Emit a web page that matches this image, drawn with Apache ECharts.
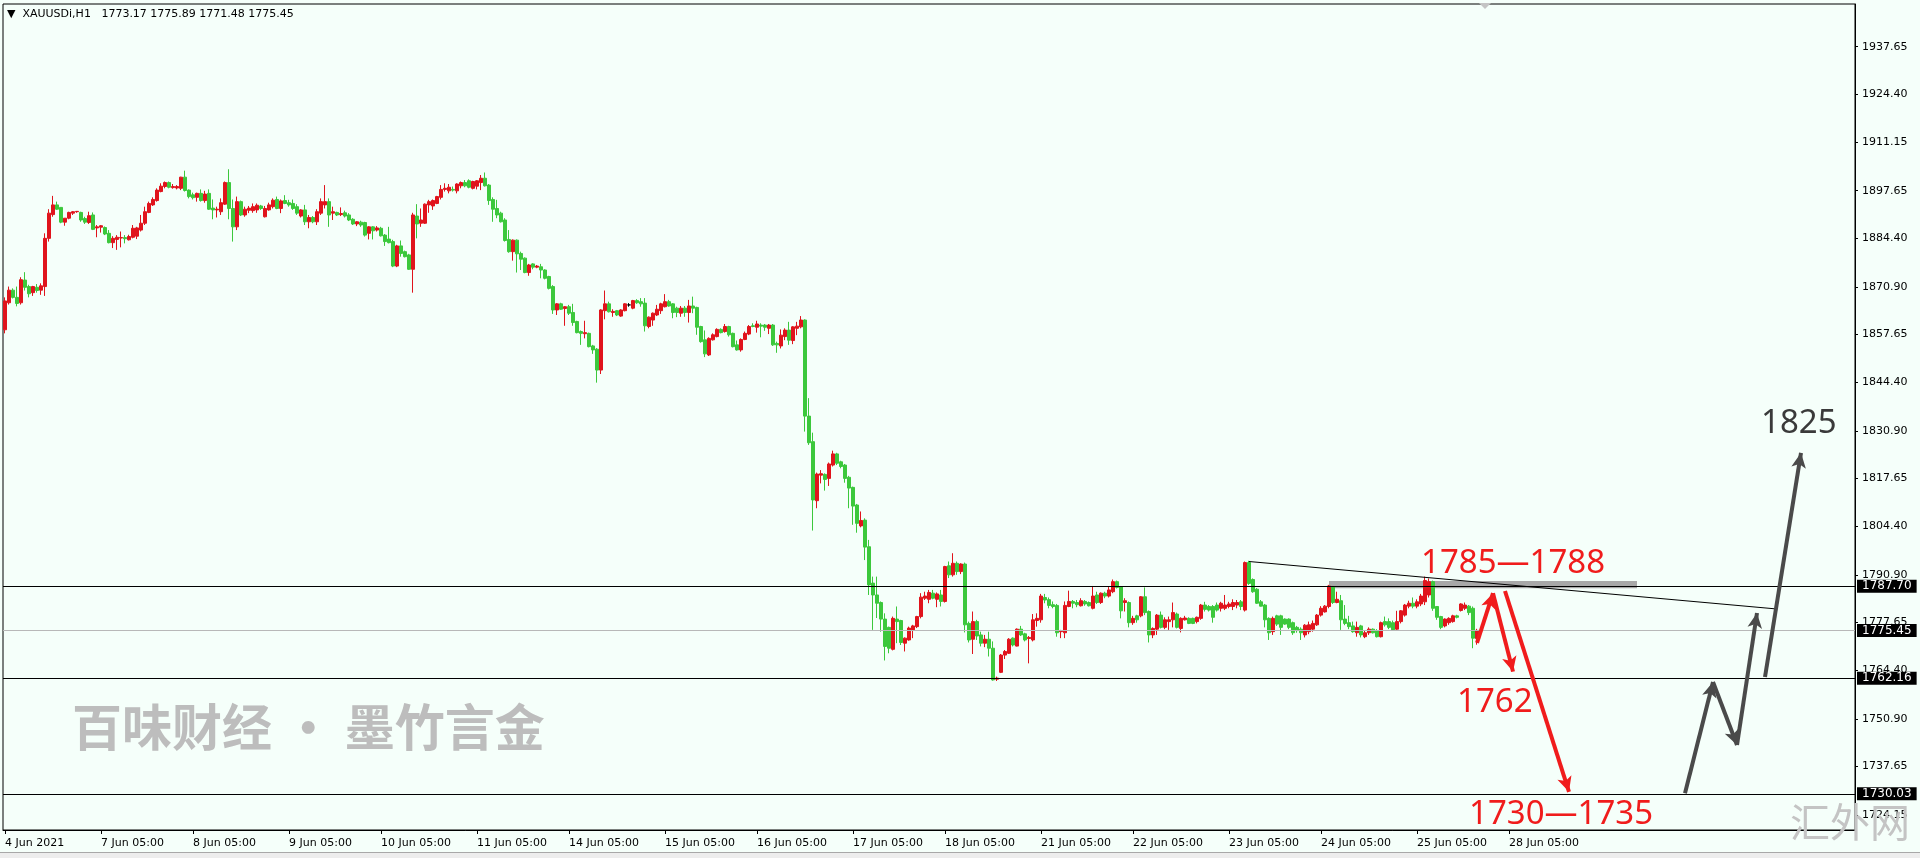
<!DOCTYPE html>
<html><head><meta charset="utf-8">
<script src="https://cdn.jsdelivr.net/npm/echarts@6/dist/echarts.min.js"></script>
<style>html,body{margin:0;padding:0;background:#f5fffa;} #c{width:1920px;height:858px;}</style>
</head><body><div id="c"></div>
<script>
// ---------- DATA ----------
const symbolName = 'XAUUSDi,H1';
// each row: [open, high, low, close]
const seg1 = [
[1859,1868,1858,1867],[1866.5,1871,1866,1870],[1870,1870.5,1867.7,1868],[1868,1871,1865.5,1866.3],[1866.5,1873.6,1866,1872.9],
[1872.8,1875,1869.9,1870.8],[1871,1871.5,1868,1869],[1869.3,1871.2,1868.4,1871],[1870.8,1871.7,1869.3,1869.9],[1870,1871.9,1868.7,1871.2],
[1871,1885.8,1868.4,1884.4],[1884.4,1892.5,1883.5,1891.4],[1891,1896.2,1890.4,1893.7],[1893.7,1894.6,1892.3,1892.5],[1893,1893,1888.6,1888.9],
[1888.9,1890,1887.9,1890],[1890,1891.8,1889.7,1891.6],[1891.4,1892,1890.9,1891.8],[1891.8,1892,1891.5,1891.9],[1891.6,1891.8,1889,1889.5],
[1889.9,1890.4,1888.4,1888.9],[1888.8,1891.8,1888.4,1890.7],[1890.9,1891.6,1886.7,1886.9],[1887.3,1888.1,1884.7,1887.6],[1887.5,1888.1,1886,1887.9],
[1887.4,1887.7,1885.3,1885.6],[1885.8,1886.7,1883,1883.2],[1883.2,1885,1881.7,1884.4],[1884.1,1885.3,1881.2,1884.7],[1884.5,1886.3,1881.9,1884.6],
[1884.6,1885.3,1883,1884.3],[1884,1885.4,1883.8,1884.9],[1884.7,1888.1,1884.4,1887.2],[1885,1887.6,1884.2,1887.3],[1886.7,1890.9,1886.3,1888.6],
[1888.6,1893.2,1888.1,1891.8],[1891.6,1894.6,1891.4,1894.1],[1893.7,1895.8,1893.4,1895.2],[1894.9,1898.3,1894.6,1897.8],[1897.4,1899.7,1897.2,1898.9],
[1898.8,1900.2,1898.3,1899.9],[1899.9,1900.2,1898.3,1898.6],[1898.5,1899.5,1898.2,1898.8],[1898.4,1899.2,1898,1898.8],[1898.3,1901.5,1897.8,1901.4],
[1901.4,1903.2,1897.4,1897.7],[1897.8,1898,1895.5,1896],[1896.5,1897.1,1895.2,1895.7],[1895.8,1897.1,1894.6,1896.9],[1896.9,1898,1894.6,1894.9],
[1894.9,1897.6,1894.3,1896.7],[1896.9,1898,1892.3,1892.5],[1892.8,1895.2,1889.7,1892.3],[1892.3,1893.2,1890.2,1892.5],[1891.8,1895.5,1890.9,1894.3],
[1893.9,1900.2,1893.7,1899.9],[1899.9,1903.6,1889.7,1892.7],[1892.7,1895.2,1883.5,1887.6],[1887.6,1896,1886.7,1894.6],[1894.6,1894.9,1890.6,1890.9],
[1890.9,1893.2,1890.4,1892.5],[1892.2,1893.4,1891.4,1892.8],[1892.1,1894.1,1891.5,1893.2],[1892.3,1894.1,1891.5,1893.6],[1893.4,1893.7,1892.3,1892.7],
[1890.4,1893.4,1890.2,1892.7],[1892.3,1894.3,1892.1,1893.7],[1893.2,1895.5,1892.7,1895],[1895.2,1896,1892.5,1892.7],[1892.7,1895.2,1891.4,1894.8],
[1894.9,1896.4,1893.9,1894.1],[1894.3,1895.1,1893.2,1893.7],[1894.1,1895.2,1892.3,1892.7],[1893.2,1893.9,1890.9,1891.4],[1890.6,1892.5,1890.2,1892.3],
[1892.3,1893.7,1888.1,1889],[1889,1890.9,1887.2,1890.2],[1890.2,1890.6,1888.6,1889],[1889,1892.5,1888.1,1891.8],[1891.4,1895.5,1890.9,1894.6],
[1893.7,1899.2,1892.7,1894.6],[1894.6,1895.5,1887.6,1890.9],[1891.4,1893.2,1889.5,1891.8],[1891.6,1891.8,1890.6,1890.9],[1891,1893,1890.6,1891.3],
[1891.5,1892.1,1890.2,1890.6],[1890.9,1891.4,1889.2,1889.5],[1889.7,1890,1888.1,1888.4],[1888.4,1889.2,1887.8,1889],[1888.9,1889.3,1887.6,1888.1],
[1888.8,1889,1884.9,1885.3]
];
const seg2 = [
[1885.8,1887.8,1884.1,1887.6],[1887.6,1887.8,1884.1,1886.5],[1886.7,1887.8,1886.3,1887.3],[1887.2,1887.6,1884.9,1885.1],[1885.3,1885.6,1882.3,1883.5],
[1884.2,1887.6,1883,1883.2],[1883.5,1884,1876.4,1876.7],[1876.7,1882.6,1876.4,1882.3],[1882.3,1883.8,1879.3,1880.2],[1880.7,1881,1879.1,1879.3],
[1879.8,1880.1,1875.6,1875.8],[1875.8,1891.5,1869.3,1890.9],[1890.6,1893.9,1884.4,1888.4],[1888.6,1892.7,1887.6,1889.5],[1888.6,1894.1,1888.4,1893.9],
[1893.7,1895.1,1891.5,1894.6],[1893.4,1895.2,1892.3,1894.9],[1894.1,1896.2,1893.9,1896],[1895.8,1899.2,1895.2,1898],[1898,1899.7,1897.4,1898.3],
[1897.6,1899.5,1896.9,1898.6],[1898,1898.8,1897.4,1897.8],[1897.6,1899.7,1896.9,1899.5],[1899,1900.2,1898.3,1899.9],[1899.9,1900.6,1898.6,1899],
[1900.4,1900.8,1898.3,1898.6],[1898.3,1900.4,1898,1900.2],[1898.9,1900.6,1898,1900.4],[1899.9,1902,1897.8,1901.1],[1901.1,1902.7,1898.8,1899],
[1899.2,1899.5,1893.7,1894.9],[1895.2,1895.8,1889,1892.5],[1892.7,1895.1,1890,1890.9],[1891.4,1891.8,1888.8,1889],[1889.5,1890,1883.5,1883.8],
[1884.1,1886.7,1880.4,1880.7],[1880.7,1884.1,1878.2,1883.9],[1883.9,1884.1,1874.9,1880.1],[1880.2,1880.7,1875.6,1878.6],[1878.9,1879.1,1874.7,1874.9],
[1874.9,1877.3,1874,1877],[1877.3,1877.5,1875.8,1876.4],[1876.4,1877,1876.1,1876.7],[1876.5,1877.3,1873.3,1875.6],[1875.6,1875.8,1873,1873.3],
[1873.8,1874,1870.2,1870.5],[1871,1871.4,1863.4,1864.5],[1864.5,1866.4,1863.1,1866.2],[1866.2,1866.5,1864.5,1864.7],[1864.9,1865.6,1860.1,1865.4],
[1865.4,1865.9,1863.1,1863.6],[1863.8,1866.2,1860.1,1861],[1861.3,1861.5,1858,1858.2],[1858.5,1858.8,1854.8,1858],[1857.9,1861.5,1856.6,1858.2],
[1858,1858.2,1854.1,1854.3],[1854.5,1854.8,1852.3,1853.4],[1853.6,1853.9,1844.3,1847.8],[1847.8,1864.7,1846.7,1864.5],[1864.3,1869.9,1861.9,1866.2],
[1866.2,1866.8,1863.8,1864],[1863.8,1864.7,1862.6,1864.1],[1864.3,1864.5,1862.8,1863.1],[1862.8,1864.7,1862.6,1864.5],[1864.3,1866.4,1864.1,1866.2],
[1865.9,1866.4,1865.4,1865.9],[1865,1867.3,1864.7,1867.1],[1867.1,1867.5,1866.2,1866.5],[1866.8,1867.8,1865.4,1866.2],[1866.4,1867.8,1858.5,1860.1],
[1859.9,1862.7,1859.4,1862.5],[1861.7,1863.8,1860.1,1863.6],[1863.1,1865.9,1862.8,1864.7],[1864.3,1866.5,1863.4,1866.2],[1865.4,1868.9,1865.2,1866.8],
[1866.8,1867.3,1865.4,1865.6],[1866.2,1866.4,1862.2,1863.8],[1865,1865.4,1862.5,1863.8],[1863.6,1865.6,1862.6,1865],[1865,1865.6,1862.6,1863.8],
[1863.8,1867.3,1861,1865.6],[1865.6,1868.2,1863.6,1865],[1865.2,1865.4,1857.6,1859.7],[1859.9,1860.1,1855.4,1855.7],[1856.2,1858.8,1851.4,1852.3],
[1852,1856.9,1851.7,1856.6],[1856.2,1858,1856,1857.6],[1857.1,1859.4,1856.9,1859.1],[1859.1,1859.4,1858,1858.2],[1858.5,1860.6,1858.2,1859.9],
[1859.9,1860.1,1857.1,1857.6],[1858,1858.2,1854.1,1854.3],[1854.8,1856,1853.2,1853.4]
];
const seg3 = [
[1853.4,1856.6,1852.9,1856.3],[1856.3,1858.5,1856.1,1858],[1857.8,1860.3,1857.5,1859.9],[1860.1,1860.8,1859.7,1859.9],[1859.7,1861.5,1858.2,1860.6],
[1860.3,1860.8,1856.9,1860],[1860.3,1860.6,1858.7,1859.7],[1859.4,1860.6,1857.8,1860.3],[1860.3,1860.6,1854.5,1854.8],[1855.2,1855.7,1852.6,1854.8],
[1854.5,1859.1,1853.8,1857.5],[1857.1,1859.4,1856.1,1858.9],[1858.9,1861.2,1854.8,1856.1],[1856,1860,1855,1859.8],[1859.4,1861.2,1857.5,1860],
[1859.8,1862.8,1859.4,1861.7],[1861.7,1861.9,1830.7,1835],[1835,1840,1827,1827.6],[1827.9,1830.4,1803.2,1811.7],[1811.5,1819.3,1809.4,1818.9],
[1818.6,1820,1816.3,1819],[1818.8,1819.1,1814.3,1817.4],[1817.7,1822.1,1815.6,1821.7],[1821.4,1825.4,1821,1824.5],[1824.5,1824.8,1821.4,1821.9],
[1822.3,1822.6,1820.5,1821],[1821.4,1821.7,1816.5,1817.7],[1818,1818.4,1809.4,1815],[1815.2,1815.4,1804.8,1810],[1810.3,1810.6,1802.6,1805.2],
[1804.5,1808.5,1804.1,1806],[1806.1,1806.6,1795,1798.6],[1798.7,1800.6,1785.3,1788.1],[1788.6,1790.4,1775.6,1785.3],[1785.3,1790.4,1778.9,1783],
[1783.2,1783.5,1775.1,1778.6],[1778.6,1780.2,1767.1,1771],[1776.3,1776.5,1769.1,1770.5],[1770.2,1779.3,1769.9,1778.8],[1778.6,1782.1,1771.9,1777.9],
[1778.2,1778.4,1771.4,1772.1],[1771.9,1773.5,1769.6,1773.3],[1772.8,1776.5,1772.6,1776.1],[1775.6,1777,1773.3,1776.7],[1776.5,1779.5,1776.1,1779.3],
[1779.3,1785.8,1778.8,1784.7],[1784.4,1786.2,1783.9,1785],[1784.1,1786.7,1783,1786],[1785.8,1786.7,1784.1,1784.4],[1784.1,1786,1781.9,1785.6],
[1785.3,1786.7,1782.1,1783.5],[1783.5,1793.4,1783.2,1793.2],[1793.4,1794.6,1790,1790.9],[1790.9,1796.9,1790.4,1794.1],[1794.1,1794.6,1790.9,1791.8],
[1791.8,1794.1,1791.1,1793.9],[1793.9,1794.3,1774.9,1777],[1777.4,1777.9,1772.1,1772.8],[1773,1780.7,1768.9,1777.9],[1777.9,1778.4,1772.8,1773.9],
[1774.2,1775.1,1771,1771.9],[1771.9,1774.2,1770.8,1773],[1773,1775.1,1768.2,1770.5],[1770.5,1772.4,1761.5,1761.7],[1761.9,1762.6,1761.4,1762.2],
[1763.8,1768.9,1763.6,1768.6],[1768.6,1770,1767.5,1769.6],[1769.1,1773.3,1768.9,1773],[1773.3,1773.5,1771,1771.4],[1771.1,1776,1771,1775.8],
[1775.8,1776.7,1773.9,1774.2],[1774.5,1774.8,1772.4,1772.8],[1773.2,1773.9,1766.3,1773.5],[1772.8,1780,1772.4,1778.4],[1778.2,1780.2,1776.5,1778.8],
[1778.4,1785.6,1777.6,1785],[1784.6,1785.6,1783,1783.9],[1784,1784.6,1781.6,1782.4],[1782.6,1783.5,1781.6,1782.1],[1782.4,1782.8,1773.7,1774.8],
[1775.1,1775.6,1773.3,1775.4],[1774.8,1783.5,1773.3,1782.4],[1782.1,1786.5,1781.9,1783.5],[1783.5,1783.9,1781.6,1783],[1783.2,1783.9,1781.9,1782.6],
[1782.3,1784.4,1782.1,1783.7],[1783.5,1783.9,1782.3,1782.8],[1783.2,1783.5,1782.1,1782.3],[1781.6,1787.8,1781.3,1785],[1785.3,1786.2,1782.8,1783.2],
[1783.2,1786,1782.8,1785.8],[1785.8,1786.2,1784.4,1785],[1785,1787.5,1784.6,1786.7]
];
const seg4 = [
[1786.2,1789.6,1785.8,1789],[1789,1789.3,1787.1,1787.4],[1787.6,1787.8,1778.8,1780.9],[1783.2,1784.4,1780.7,1783.7],[1783.2,1783.5,1776.3,1777.6],
[1777.6,1779.5,1777,1778.8],[1779.5,1779.8,1777.6,1778.4],[1779.5,1785,1779.1,1784.8],[1784.8,1787.4,1779.7,1780.4],[1780.7,1781,1772.1,1774.2],
[1774.2,1776.3,1773.3,1776],[1775.8,1780,1774.2,1779.7],[1779.7,1780.7,1776,1776.3],[1776.3,1779.1,1775.8,1778.4],[1777.9,1779.3,1775.6,1778.4],
[1778.4,1783.2,1776.3,1780.4],[1780,1780.4,1776,1776.3],[1776,1779.1,1774.9,1778.8],[1778.4,1779.5,1778.2,1778.9],[1778.8,1779.1,1777.2,1777.4],
[1778.8,1779,1777.2,1777.4],[1777.9,1779.3,1777.4,1779.1],[1778.8,1782.8,1778.4,1782.5],[1782.5,1783.4,1780.7,1781.3],[1782.1,1782.5,1780.7,1781.1],
[1782.1,1782.5,1777.6,1779.1],[1782.5,1783.2,1780.7,1781.1],[1781.6,1783.4,1780.7,1783],[1781.6,1785.3,1781.1,1782.5],[1782.1,1783.4,1781.6,1782.8],
[1782.1,1784.1,1781.1,1783.2],[1782.5,1783.9,1781.6,1783.2],[1783.4,1783.9,1781.1,1782.1],[1781.1,1794.6,1780.7,1794.3],[1794.3,1794.8,1788.1,1788.5],
[1789.6,1789.9,1785.9,1786.2],[1786.9,1787.2,1782.8,1783],[1783.4,1783.9,1782.1,1782.2],[1782.5,1782.8,1776.3,1778.4],[1778.8,1779.1,1772.8,1774.8],
[1775.1,1779.3,1774.2,1778.8],[1779.5,1779.8,1776.7,1777.2],[1779.5,1779.8,1774.2,1776.3],[1778.6,1778.8,1777,1777.2],[1778.6,1778.8,1775.8,1776.3],
[1777.6,1777.9,1774.2,1774.8],[1776.3,1776.7,1774.8,1775.4],[1775.8,1776.3,1772.8,1774.8],[1774.2,1777.2,1773.5,1776.9],[1775.1,1777.9,1774.4,1777],
[1775.8,1778.2,1775.1,1777.4],[1777,1780,1776.7,1779.7],[1779.7,1782.2,1779.3,1781.6],[1780.6,1782.5,1780.4,1782.2],[1782.1,1788.1,1781.6,1787.8],
[1787.6,1787.8,1782.8,1783.2],[1783.2,1786.2,1783,1784.1],[1783.7,1785.3,1775.6,1778.4],[1778.6,1782.5,1776.9,1777.4],[1777.6,1779.5,1775.8,1776.5],
[1776.7,1777.9,1774.8,1775.1],[1774.8,1777.9,1773.7,1776.3],[1776.7,1777,1773.5,1774.2],[1773.7,1775.4,1773.3,1774.8],[1774.8,1776.3,1774.2,1775.8],
[1775.8,1776,1774.6,1774.8],[1775.4,1775.8,1773.5,1773.7],[1773.7,1777.9,1773.5,1777.6],[1777.9,1779.3,1776.5,1777],[1777.9,1778.8,1775.8,1776.3],
[1777.6,1778.2,1775.4,1775.6],[1775.8,1780.9,1775.6,1777.9],[1777.9,1781.1,1777.4,1780.9],[1779.7,1782.8,1779.3,1782.5],[1782.2,1783.7,1781.6,1783],
[1783,1784.6,1781.6,1782.2],[1782.2,1784.1,1781.6,1783.4],[1782.8,1785.6,1782.2,1785],[1783.4,1790.4,1782.5,1789.3],[1785.3,1789.9,1784.6,1789],
[1789,1789.3,1780.9,1781.6],[1782.1,1782.2,1778.4,1779.1],[1779.3,1779.5,1775.8,1776.3],[1776.7,1778.8,1776.3,1778.6],[1777.6,1779.1,1777,1778.8],
[1777.9,1779.8,1777.6,1779.5],[1779.5,1779.8,1778.8,1779.1],[1781,1783,1780.7,1782.8],[1781.6,1783.2,1781.1,1782.5],[1782.2,1782.5,1779.7,1780.4],
[1781.6,1782.1,1770.5,1773.3],[1773.17,1775.89,1771.48,1775.45]
];
const futureSlots = 94;
const timeTickIndex = [0,24,47,71,94,118,141,165,188,212,235,259,282,306,329,353,376];
const timeTickLabels = ['4 Jun 2021','7 Jun 05:00','8 Jun 05:00','9 Jun 05:00','10 Jun 05:00','11 Jun 05:00','14 Jun 05:00','15 Jun 05:00','16 Jun 05:00','17 Jun 05:00','18 Jun 05:00','21 Jun 05:00','22 Jun 05:00','23 Jun 05:00','24 Jun 05:00','25 Jun 05:00','28 Jun 05:00'];
const priceTicks = [1937.65,1924.40,1911.15,1897.65,1884.40,1870.90,1857.65,1844.40,1830.90,1817.65,1804.40,1790.90,1777.65,1764.40,1750.90,1737.65,1724.15];
const priceMin = 1719.99, priceMax = 1949.52;
const levelLines = [1787.70, 1762.16, 1730.03];
const currentPrice = 1775.45;
// annotations in [bar index, price]
const zoneBand = [[331, 1787.2],[408, 1789.2]];
const trendLine = [[311, 1794.6],[443, 1781.4]];
const redArrows = [[[368,1772.0],[372,1785.8]],[[372,1785.8],[377,1764.0]],[[375,1786.4],[391,1730.6]]];
const grayArrows = [[[420,1730.2],[427,1761.1]],[[427,1761.1],[433,1743.6]],[[433,1743.6],[438,1780.3]],[[440,1762.5],[449,1824.8]]];
const redNotes = [['1785—1788',[354,1794.0]],['1762',[363,1755.3]],['1730—1735',[366,1724.4]]];
const grayNotes = [['1825',[439,1832.8]]];
const watermark1 = '百味财经 · 墨竹言金';
const watermark2 = '汇外网';

// ---------- BUILD ----------
const candles = seg1.concat(seg2, seg3, seg4);
const nCat = candles.length + futureSlots;
const cats = [];
for (let i = 0; i < nCat; i++) cats.push(String(i));
const tickMap = {};
timeTickIndex.forEach((k, j) => tickMap[k] = timeTickLabels[j]);
const ecData = candles.map(r => [r[0], r[3], r[2], r[1]]);
const last = candles[candles.length - 1];
const header = '▼  ' + symbolName + '   ' + last.map(v => v.toFixed(2)).join(' ');

const FONT = 'DejaVu Sans';
const RED = '#f01c1c';
const GRAY = '#4a4a4a';

const levelItems = levelLines.map(v => ({ yAxis: v, lineStyle: { color: '#000', width: 1, type: 'solid' } }));
levelItems.push({ yAxis: currentPrice, lineStyle: { color: '#b8b8b8', width: 1, type: 'solid' } });
const noLabel = { show: false };
const segItem = (seg, color, width, head) => [
  { coord: seg[0], symbol: 'none', lineStyle: { color, width, type: 'solid' }, label: noLabel },
  { coord: seg[1], symbol: head ? 'arrow' : 'none', symbolSize: [11, 15] }
];
const markLineData = levelItems.concat(
  [segItem(trendLine, '#000', 1, false)],
  redArrows.map(s => segItem(s, RED, 4, true)),
  grayArrows.map(s => segItem(s, GRAY, 4, true))
);
const notePoint = (n, color) => ({
  coord: n[1], symbol: 'rect', symbolSize: 0,
  label: { show: true, formatter: n[0], position: 'right', distance: 0, color, fontSize: 33, fontFamily: 'Noto Sans' }
});

const chart = echarts.init(document.getElementById('c'), null, { renderer: 'canvas' });
chart.setOption({
  animation: false,
  backgroundColor: '#f5fffa',
  title: { text: header, left: 7, top: 9, padding: 0,
    textStyle: { fontFamily: FONT, fontSize: 11, fontWeight: 'normal', color: '#000' } },
  grid: { left: 3, right: 65, top: 4, bottom: 28, show: true, borderColor: '#000', borderWidth: 1, backgroundColor: '#f5fffa' },
  xAxis: {
    type: 'category', data: cats, boundaryGap: true,
    axisLine: { show: true, lineStyle: { color: '#000', width: 1 } },
    axisTick: { show: true, length: 4, alignWithLabel: true, interval: (i) => tickMap[i] !== undefined, lineStyle: { color: '#000' } },
    axisLabel: { show: true, interval: (i) => tickMap[i] !== undefined, formatter: (v, i) => tickMap[i] || '',
      align: 'left', margin: 8, color: '#000', fontFamily: FONT, fontSize: 11 },
    splitLine: { show: false }
  },
  yAxis: {
    type: 'value', position: 'right', min: priceMin, max: priceMax, scale: true,
    axisLine: { show: true, lineStyle: { color: '#000' } },
    axisTick: { show: true, length: 3, customValues: priceTicks, lineStyle: { color: '#000' } },
    axisLabel: { show: true, customValues: priceTicks, formatter: v => v.toFixed(2), margin: 7, color: '#000', fontFamily: FONT, fontSize: 11 },
    splitLine: { show: false }
  },
  series: [{
    type: 'candlestick', data: ecData, barWidth: 3,
    itemStyle: { color: '#e0141c', color0: '#3cc83c', borderColor: '#e0141c', borderColor0: '#3cc83c', borderColorDoji: '#000', borderWidth: 1 },
    markLine: {
      silent: true, symbol: ['none', 'none'], animation: false,
      label: { show: true, position: 'end', distance: 2, formatter: p => Number(p.value).toFixed(2),
        backgroundColor: '#000', color: '#fff', padding: [1, 5, 0, 5], lineHeight: 12, fontFamily: FONT, fontSize: 12 },
      emphasis: { disabled: true },
      data: markLineData
    },
    markArea: {
      silent: true,
      itemStyle: { color: '#a8a8a8', opacity: 1 },
      data: [[{ coord: zoneBand[0] }, { coord: zoneBand[1] }]]
    },
    markPoint: {
      silent: true,
      data: redNotes.map(n => notePoint(n, RED)).concat(grayNotes.map(n => notePoint(n, '#3a3a3a')))
    }
  }],
  graphic: [
    { type: 'text', left: 72, top: 702, z: 1, style: { text: watermark1, fontSize: 50, fontWeight: 'bold', fontFamily: 'Noto Sans CJK SC', fill: '#bdbdbd' } },
    { type: 'text', left: 1790, top: 802, z: 100, style: { text: watermark2, fontSize: 40, fontWeight: 'normal', fontFamily: 'Noto Sans CJK SC', fill: '#c4c4c4' } },
    { type: 'polygon', z: 100, shape: { points: [[1479, 3], [1491, 3], [1485, 9]] }, style: { fill: '#c4c4c4' } },
    { type: 'rect', z: 100, shape: { x: 0, y: 852, width: 1920, height: 6 }, style: { fill: '#ededed' } },
    { type: 'line', z: 100, shape: { x1: 0, y1: 852.5, x2: 1920, y2: 852.5 }, style: { stroke: '#a8a8a8', lineWidth: 1 } }
  ]
});
</script></body></html>
